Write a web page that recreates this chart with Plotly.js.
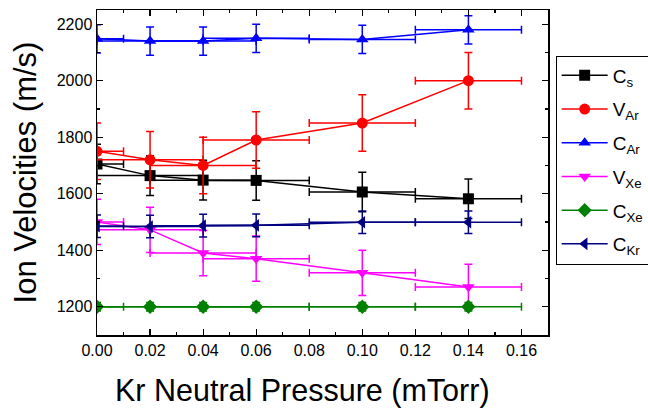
<!DOCTYPE html>
<html><head><meta charset="utf-8">
<script src="https://cdn.plot.ly/plotly-3.0.1.min.js"></script>
<style>html,body{margin:0;padding:0;background:#fff;}#chart{width:648px;height:408px;}</style>
</head><body><div id="chart"></div>
<script>
const pressure = [0.00, 0.02, 0.04, 0.06, 0.10, 0.14];
const pressureErr = [0.01, 0.02, 0.02, 0.02, 0.02, 0.02];
const cs = [1705, 1664, 1648, 1647, 1606, 1582];
const csErr = [70, 70, 70, 70, 70, 70];
const vAr = [1750, 1720, 1700, 1790, 1850, 2000];
const vArErr = [100, 100, 100, 100, 100, 100];
const cAr = [2148, 2140, 2140, 2150, 2146, 2180];
const cArErr = [50, 50, 50, 50, 50, 50];
const vXe = [1500, 1472, 1390, 1370, 1320, 1270];
const vXeErr = [80, 80, 80, 80, 80, 80];
const cXe = [1200, 1200, 1200, 1200, 1200, 1200];
const cXeErr = [15, 15, 15, 15, 15, 15];
const cKr = [1485, 1484, 1487, 1488, 1499, 1499];
const cKrErr = [40, 40, 40, 40, 40, 40];

const names = ['C<sub>s</sub>', 'V<sub>Ar</sub>', 'C<sub>Ar</sub>', 'V<sub>Xe</sub>', 'C<sub>Xe</sub>', 'C<sub>Kr</sub>'];
const series = [cs, vAr, cAr, vXe, cXe, cKr];
const errs = [csErr, vArErr, cArErr, vXeErr, cXeErr, cKrErr];
const colors = ['#000000', '#ff0000', '#0000ff', '#ff00ff', '#008000', '#000080'];
const symbols = ['square', 'circle', 'triangle-up', 'triangle-down', 'diamond', 'triangle-left'];
const xTitle = 'Kr Neutral Pressure (mTorr)';
const yTitle = 'Ion Velocities (m/s)';

const traces = series.map((s, i) => ({
  x: pressure, y: s, name: names[i], type: 'scatter', mode: 'lines+markers',
  legendgroup: 'g' + i,
  line: {color: colors[i], width: 1.5},
  marker: {symbol: symbols[i], size: 11, color: colors[i]},
  error_y: {type: 'data', array: errs[i], visible: true, color: colors[i], thickness: 1.5, width: 4},
  error_x: {type: 'data', array: pressureErr, visible: true, color: colors[i], thickness: 1.5, width: 4}
}));

const font = 'Liberation Sans, Arial, sans-serif';
const layout = {
  width: 648, height: 408,
  margin: {l: 97, r: 100, t: 10, b: 73, autoexpand: false},
  paper_bgcolor: '#fff', plot_bgcolor: '#fff',
  font: {family: font, color: '#000'},
  showlegend: true,
  legend: {x: 1.017, y: 0.86, xanchor: 'left', yanchor: 'top', bordercolor: '#000', borderwidth: 1,
    bgcolor: '#fff', font: {size: 19, family: font}, traceorder: 'grouped', tracegroupgap: 6, itemwidth: 46},
  xaxis: {
    range: [0, 0.17], dtick: 0.02, tick0: 0, tickformat: '.2f',
    ticks: 'inside', ticklen: 6, tickwidth: 1.2, tickcolor: '#000',
    showline: true, linecolor: '#000', linewidth: 1.5, mirror: 'allticks',
    showgrid: false, zeroline: false,
    minor: {dtick: 0.01, ticks: 'inside', ticklen: 3, tickcolor: '#000', showgrid: false},
    tickfont: {size: 16, family: font}
  },
  yaxis: {
    range: [1100, 2250], dtick: 200, tick0: 1200,
    ticks: 'inside', ticklen: 6, tickwidth: 1.2, tickcolor: '#000',
    showline: true, linecolor: '#000', linewidth: 1.5, mirror: 'allticks',
    showgrid: false, zeroline: false,
    minor: {dtick: 100, ticks: 'inside', ticklen: 3, tickcolor: '#000', showgrid: false},
    tickfont: {size: 16, family: font},
    title: {text: yTitle, font: {size: 31, family: font}, standoff: 11}
  },
  annotations: [{
    text: xTitle, xref: 'paper', yref: 'paper', x: 0.455, y: -0.172,
    xanchor: 'center', yanchor: 'middle', showarrow: false,
    font: {size: 30.5, family: font, color: '#000'}
  }]
};
Plotly.newPlot('chart', traces, layout, {displayModeBar: false, staticPlot: true});
</script></body></html>
